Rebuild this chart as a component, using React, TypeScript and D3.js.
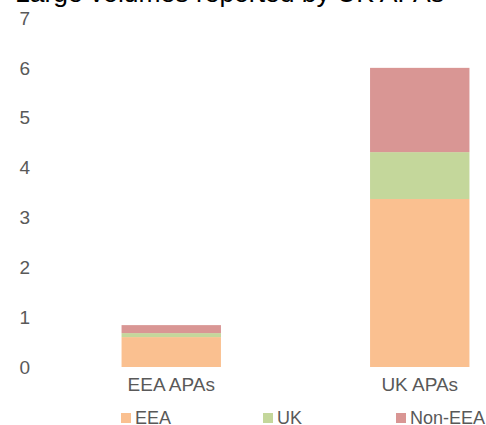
import React from "react";
import * as d3 from "d3";

const categories = ["EEA APAs", "UK APAs"];
const seriesNames = ["EEA", "UK", "Non-EEA"];
const eeaValues = [0.6, 3.37];
const ukValues = [0.08, 0.94];
const nonEeaValues = [0.16, 1.69];
const yTicks = [0, 1, 2, 3, 4, 5, 6, 7];
const colors = ["#FAC090", "#C4D79B", "#D99694"];
const title = "Large volumes reported by UK APAs";

export default function App() {
  const W = 486, H = 425;
  const x = d3.scaleBand<string>().domain(categories).range([47, 544]).paddingInner(0.6).paddingOuter(0.3);
  const y = d3.scaleLinear().domain([0, 7]).range([367, 18]);
  const rows = categories.map((c, i) => ({ cat: c, EEA: eeaValues[i], UK: ukValues[i], "Non-EEA": nonEeaValues[i] }));
  const stacked = d3.stack<any>().keys(seriesNames)(rows);
  const font = "Liberation Sans, Arial, sans-serif";
  const legendX = [121, 263, 396];
  return (
    <svg width={W} height={H} style={{ position: "absolute", left: 0, top: 0, display: "block" }} fontFamily={font}>
      <rect width={W} height={H} fill="#fff" />
      <text x={15} y={2} fontSize={25} fill="#000" textLength={429} lengthAdjust="spacingAndGlyphs">{title}</text>
      {yTicks.map((t) => (
        <text key={t} x={30} y={y(t)} dy="0.35em" textAnchor="end" fontSize={19} fill="#595959">{t}</text>
      ))}
      {stacked.map((s, si) => (
        <g key={s.key} fill={colors[si]}>
          {s.map((d, i) => (
            <rect key={i} x={x(categories[i])} width={x.bandwidth()} y={y(d[1])} height={y(d[0]) - y(d[1])} />
          ))}
        </g>
      ))}
      {categories.map((c) => (
        <text key={c} x={(x(c) as number) + x.bandwidth() / 2} y={391} textAnchor="middle" fontSize={19} fill="#595959">{c}</text>
      ))}
      {seriesNames.map((n, i) => (
        <g key={n}>
          <rect x={legendX[i]} y={413} width={10} height={10} fill={colors[i]} />
          <text x={legendX[i] + 14} y={424} fontSize={18} fill="#595959">{n}</text>
        </g>
      ))}
    </svg>
  );
}
